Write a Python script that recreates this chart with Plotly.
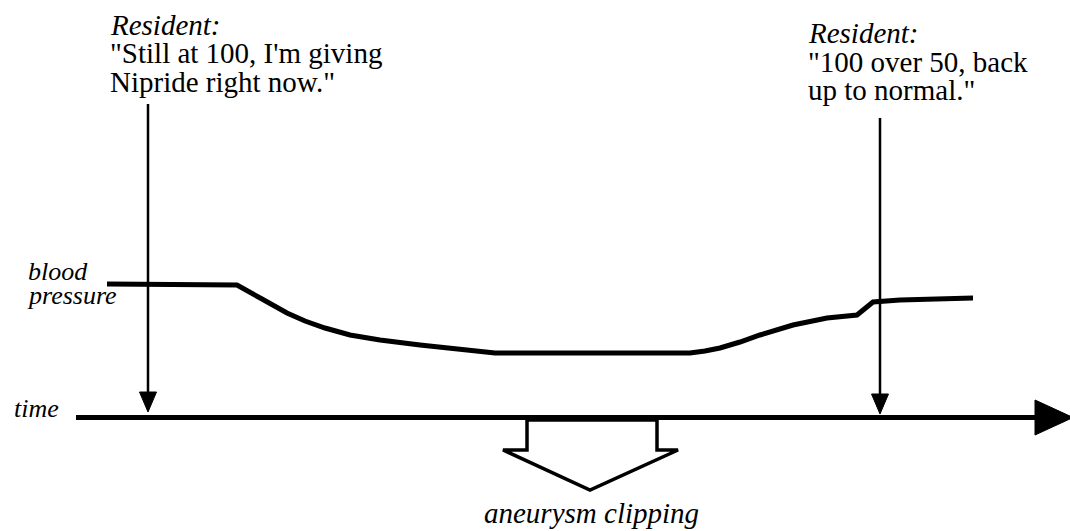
import plotly.graph_objects as go

# ---- data (time units horizontally, pressure level vertically) ----
bp_time = [10.7, 23.7, 26.2, 28.7, 30.5, 32.5, 35.0, 38.0, 42.0, 46.0, 49.5, 56.0, 62.0, 69.0,
           70.5, 72.0, 74.0, 76.0, 79.3, 82.7, 85.7, 86.5, 87.3, 90.0, 97.3]
bp_level = [24.7, 24.6, 23.2, 21.8, 21.0, 20.3, 19.6, 19.1, 18.6, 18.2, 17.8, 17.8, 17.8, 17.8,
            18.0, 18.3, 18.9, 19.6, 20.6, 21.3, 21.6, 22.3, 22.9, 23.1, 23.3]

time_axis_start = 7.6
time_axis_end = 103.5
time_axis_level = 11.35

# resident remark arrows: time position, top, tip
remark_time = [14.8, 88.0]
remark_top = [42.7, 41.3]
remark_tip = [11.9, 11.7]

# aneurysm clipping event (block arrow under the time axis)
clip_start = 52.7
clip_end = 65.7
clip_center = 59.0

left_quote = ["Resident:", "\"Still at 100, I'm giving", "Nipride right now.\""]
right_quote = ["Resident:", "\"100 over 50, back", "up to normal.\""]

FONT = "Liberation Serif"

fig = go.Figure()

# blood pressure curve
fig.add_trace(go.Scatter(x=bp_time, y=bp_level, mode="lines",
                         line=dict(color="black", width=5), hoverinfo="skip"))

# time axis line
fig.add_trace(go.Scatter(x=[time_axis_start, time_axis_end + 0.5],
                         y=[time_axis_level, time_axis_level], mode="lines",
                         line=dict(color="black", width=5), hoverinfo="skip"))
# time axis arrowhead
hw = 1.75
fig.add_trace(go.Scatter(x=[time_axis_end, time_axis_end, time_axis_end + 3.8, time_axis_end],
                         y=[time_axis_level + hw, time_axis_level - hw, time_axis_level, time_axis_level + hw],
                         mode="lines", fill="toself", fillcolor="black",
                         line=dict(color="black", width=1), hoverinfo="skip"))

# remark arrows
head_len = 2.0
head_hw = 0.85
for t, top, tip in zip(remark_time, remark_top, remark_tip):
    fig.add_trace(go.Scatter(x=[t, t], y=[top, tip + head_len * 0.5], mode="lines",
                             line=dict(color="black", width=2.5), hoverinfo="skip"))
    fig.add_trace(go.Scatter(x=[t - head_hw, t + head_hw, t, t - head_hw],
                             y=[tip + head_len, tip + head_len, tip, tip + head_len],
                             mode="lines", fill="toself", fillcolor="black",
                             line=dict(color="black", width=1), hoverinfo="skip"))

# block arrow for aneurysm clipping
shaft_top = 11.1
shaft_bottom = 8.1
head_ext = 2.4
tip_level = 4.1
bx = [clip_start, clip_end, clip_end, clip_end + head_ext - 0.3, clip_center,
      clip_start - head_ext, clip_start, clip_start]
by = [shaft_top, shaft_top, shaft_bottom, shaft_bottom, tip_level,
      shaft_bottom, shaft_bottom, shaft_top]
fig.add_trace(go.Scatter(x=bx, y=by, mode="lines", fill="toself", fillcolor="white",
                         line=dict(color="black", width=3.5), hoverinfo="skip"))

ann = []
def txt(x, y, s, size, italic=False, anchor="left"):
    if italic:
        s = "<i>" + s + "</i>"
    ann.append(dict(x=x, y=y, xref="x", yref="y", text=s, showarrow=False,
                    xanchor=anchor, yanchor="middle",
                    font=dict(family=FONT, size=size, color="black")))

# left quote
left_y = [50.6, 47.8, 44.9]
for i, (line, y) in enumerate(zip(left_quote, left_y)):
    txt(10.8, y, line, 29, italic=(i == 0))
right_y = [49.8, 46.9, 44.1]
for i, (line, y) in enumerate(zip(right_quote, right_y)):
    txt(80.6, y, line, 29, italic=(i == 0))

txt(2.6, 25.95, "blood", 26, italic=True)
txt(2.5, 23.55, "pressure", 26, italic=True)
txt(1.2, 12.3, "time", 26, italic=True)
txt(clip_center + 0.1, 1.8, "aneurysm clipping", 29, italic=True, anchor="center")

fig.update_layout(
    width=1070, height=531,
    margin=dict(l=0, r=0, t=0, b=0),
    paper_bgcolor="white", plot_bgcolor="white",
    showlegend=False,
    annotations=ann,
    xaxis=dict(range=[0, 107], visible=False, fixedrange=True),
    yaxis=dict(range=[0, 53.1], visible=False, fixedrange=True),
)

fig.write_html("out.html", config={"displayModeBar": False},
               post_script="document.body.style.margin='0';document.body.style.overflow='hidden';")
